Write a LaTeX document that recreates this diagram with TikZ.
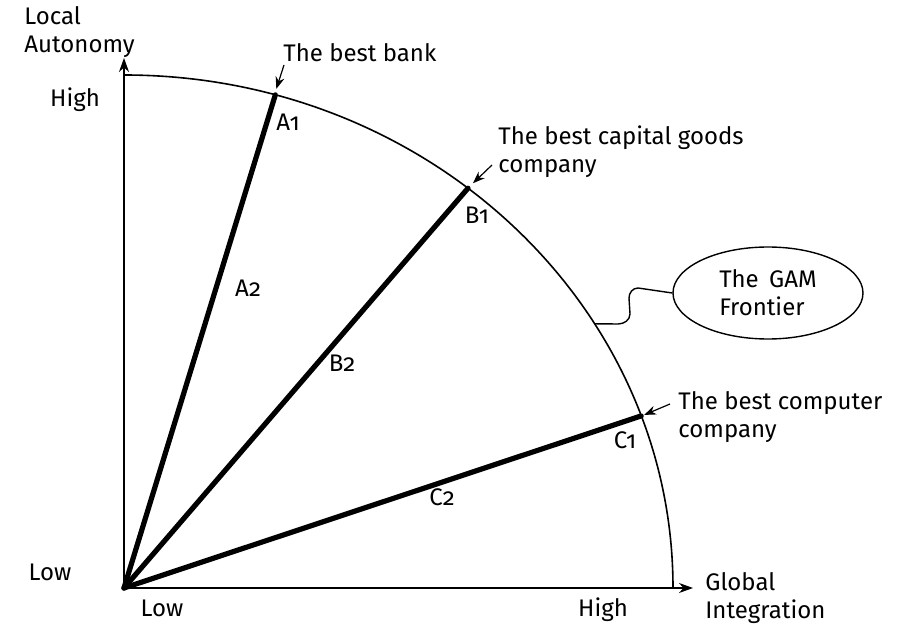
\documentclass[tikz,border=0pt]{standalone}
\usepackage{fontspec}
\setmainfont{Fira Sans}[Numbers=OldStyle]
\usetikzlibrary{arrows.meta,positioning,calc,shapes.geometric}

\tikzset{
  lbl/.style={font=\fontsize{12}{14}\selectfont, inner sep=1pt},
  path/.style={line width=2.6pt, line cap=round},
  pointer/.style={-{Stealth[length=6pt,width=4.5pt]}, line width=0.6pt},
}

\begin{document}
\begin{tikzpicture}[x=0.5pt,y=0.5pt]
    \useasboundingbox (0,0) rectangle (907,628);

    % axes
    \coordinate (O) at (124,40);
    \draw[-{Stealth[length=7pt,width=5pt]}, line width=0.8pt] (O) -- (693,40) coordinate (xend);
    \draw[-{Stealth[length=7pt,width=5pt]}, line width=0.8pt] (O) -- (124,570) coordinate (yend);

    \node[lbl, align=left, anchor=west] (la) at (22,596) {Local\\Autonomy};
    \node[lbl] (yhigh) at (75,528) {High};
    \node[lbl] (ylow) at (50,56) {Low};
    \node[lbl] (xlow) at (162,20) {Low};
    \node[lbl] (xhigh) at (603,18) {High};
    \node[lbl, align=left, anchor=west] (gi) at (703,30) {Global\\Integration};

    % frontier
    \draw[line width=0.8pt] ($(O)+(549,0)$) arc[start angle=0, end angle=90, x radius=549, y radius=513];
    \coordinate (a1) at ($(O)+(74:549 and 513)$);
    \coordinate (b1) at ($(O)+(51.2:549 and 513)$);
    \coordinate (c1) at ($(O)+(19.6:549 and 513)$);
    \coordinate (fr) at ($(O)+(31:549 and 513)$);

    % strategy paths
    \draw[path] (O) -- (a1);
    \draw[path] (O) -- (b1);
    \draw[path] (O) -- (c1);

    \node[lbl] (A1) at (288,506) {A1};
    \node[lbl] (B1) at (477,413) {B1};
    \node[lbl] (C1) at (625,188) {C1};
    \node[lbl] (A2) at (248,340) {A2};
    \node[lbl] (B2) at (342,265) {B2};
    \node[lbl] (C2) at (442,131) {C2};

    % best companies
    \node[lbl, anchor=west] (bank) at (281,575) {The best bank};
    \node[lbl, align=left, anchor=west] (cap) at (496,476) {The best capital goods\\company};
    \node[lbl, align=left, anchor=west] (comp) at (676,211) {The best computer\\company};

    \coordinate (banktail) at (284,563);
    \coordinate (captail) at (492,463);
    \coordinate (comptail) at (670,224);
    \draw[pointer] (banktail) -- ($(a1)+(1,6)$);
    \draw[pointer] (captail) -- ($(b1)+(5,5)$);
    \draw[pointer] (comptail) -- ($(c1)+(3,1)$);

    % callout
    \node[lbl, draw, line width=0.7pt, ellipse, minimum width=95pt, minimum height=46pt, align=left] (gam) at (768,335) {The~\,GAM\\Frontier};
    \draw[line width=0.7pt] (gam.west) -- (638,340) to[out=180,in=90] (629,330) -- (630,314) to[out=-90,in=0] (618,304) -- (fr);
\end{tikzpicture}
\end{document}
